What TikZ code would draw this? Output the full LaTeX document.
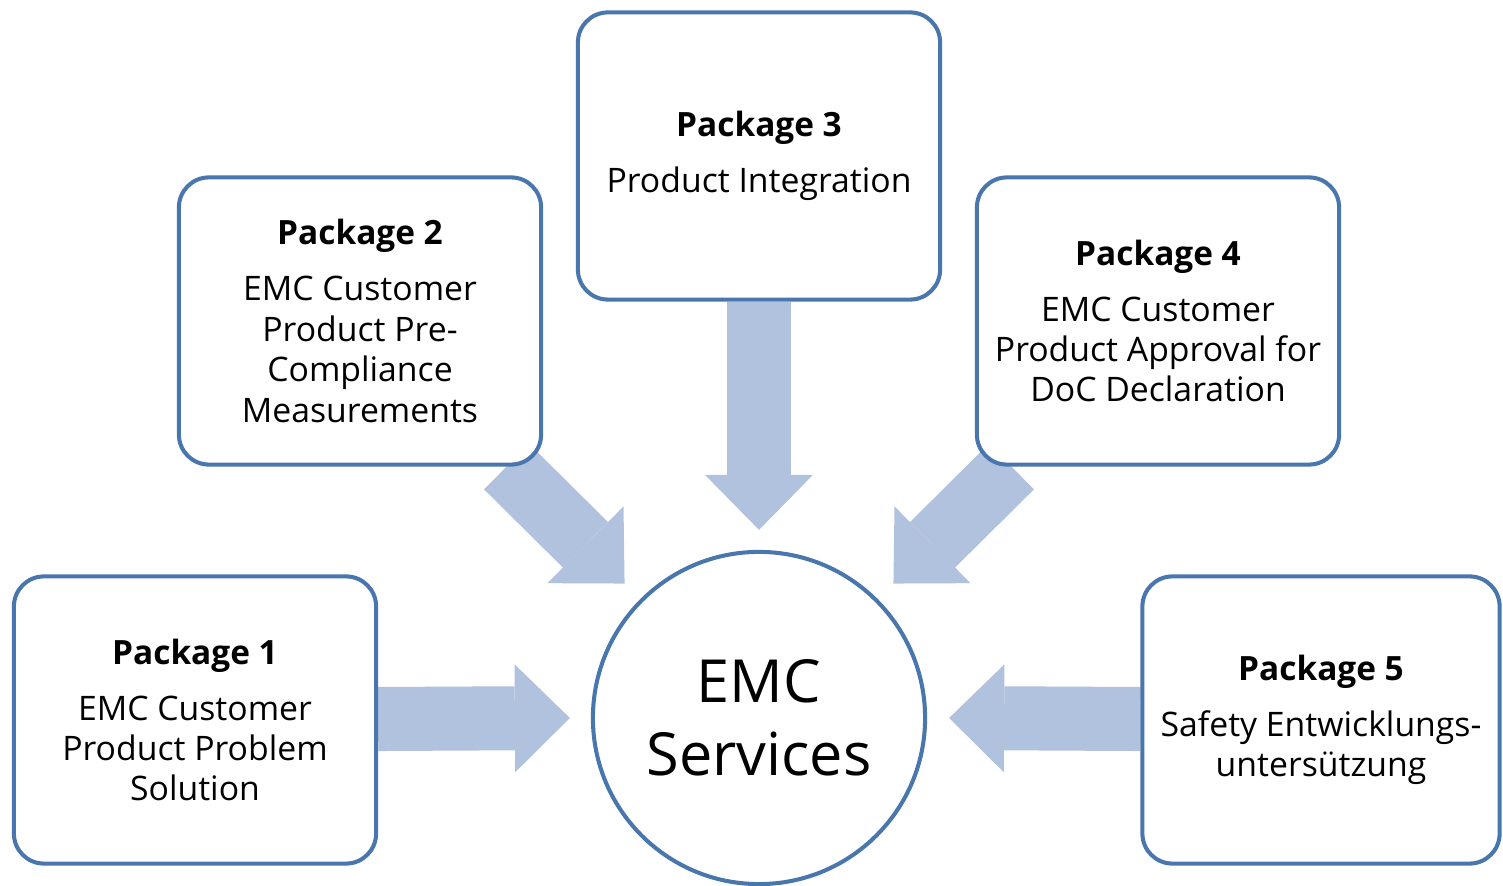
\documentclass[tikz,border=0pt]{standalone}
\usepackage{fontspec}
\setmainfont{Open Sans}
\usetikzlibrary{arrows.meta,backgrounds}
\definecolor{boxblue}{RGB}{74,118,174}
\definecolor{flowblue}{RGB}{176,194,222}
\begin{document}
\begin{tikzpicture}[x=0.01cm, y=-0.01cm,
		main/.style = {draw=boxblue, line width=1.15pt, fill=white, rounded corners=0.3cm, align=center,
			minimum width=3.62cm, minimum height=2.87cm, font=\fontsize{9.6}{11.5}\selectfont},
		flow/.style = {draw=flowblue, line width=0.64cm,
			-{Triangle[length=0.55cm, width=1.08cm, line width=0pt, fill=flowblue]}}]

		\useasboundingbox (0,0) rectangle (1503,886);

		\node[main] (P1) at (195,720) {\textbf{\fontsize{9.5}{11.5}\selectfont Package 1}\\[4.4pt]EMC Customer\\Product Problem\\Solution};
		\node[main] (P2) at (360,321) {\textbf{\fontsize{9.5}{11.5}\selectfont Package 2}\\[4.4pt]EMC Customer\\Product Pre-\\Compliance\\Measurements};
		\node[main] (P3) at (759,156) {\textbf{\fontsize{9.5}{11.5}\selectfont Package 3}\\[4.4pt]Product Integration};
		\node[main] (P4) at (1158,321) {\textbf{\fontsize{9.5}{11.5}\selectfont Package 4}\\[4.4pt]EMC Customer\\Product Approval for\\DoC Declaration};
		\node[main, minimum width=3.57cm] (P5) at (1321,720) {\textbf{\fontsize{9.5}{11.5}\selectfont Package 5}\\[4.4pt]Safety Entwicklungs-\\untersützung};
		\node[draw=boxblue, line width=1.15pt, fill=white, circle, minimum size=3.32cm, align=center,
			font=\fontsize{16.9}{20.8}\selectfont] (EMC) at (759,718) {EMC\\Services};

		\begin{scope}[on background layer]
		\draw[flow] (P1) -- ([xshift=-0.21cm]EMC.west);
		\draw[flow] (P2) -- ([shift={(135:0.22cm)}]EMC.135);
		\draw[flow] (P3) -- ([yshift=0.2cm]EMC.north);
		\draw[flow] (P4) -- ([shift={(45:0.22cm)}]EMC.45);
		\draw[flow] (P5) -- ([xshift=0.22cm]EMC.east);
		\end{scope}
	\end{tikzpicture}
\end{document}
